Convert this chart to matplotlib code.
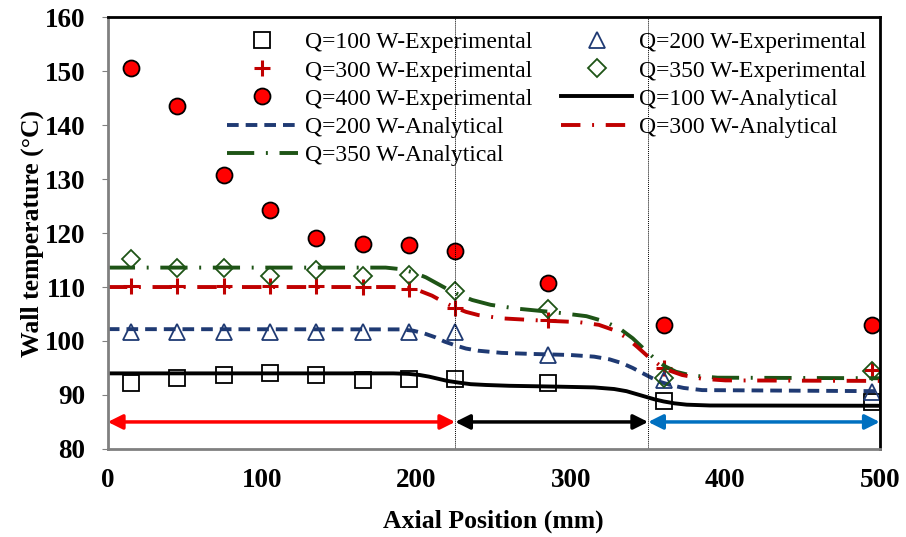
import matplotlib
matplotlib.use("Agg")
import matplotlib.pyplot as plt

# experimental points
x_exp = [15, 45, 75, 105, 135, 165, 195, 225, 285, 360, 495]
t100_exp = [92.2, 93.1, 93.7, 94.1, 93.7, 92.8, 93.0, 93.0, 92.2, 88.9, 88.7]
t200_exp = [101.7, 101.7, 101.7, 101.7, 101.7, 101.7, 101.7, 101.6, 97.4, 92.8, 90.6]
t300_exp = [110.1, 110.1, 110.1, 110.1, 110.1, 110.0, 109.6, 106.1, 103.9, 95.0, 94.6]
t350_exp = [115.2, 113.5, 113.6, 112.0, 113.1, 112.0, 112.2, 109.3, 106.0, 93.1, 94.4]
t400_exp = [150.6, 143.6, 130.8, 124.3, 119.0, 118.0, 117.7, 116.7, 110.8, 103.0, 103.0]

# analytical curves
x100 = [0, 185, 195, 202, 208, 214, 220, 227, 235, 245, 260, 290, 315, 328, 336, 342, 348,
        354, 360, 367, 375, 390, 500]
y100 = [94.0, 94.0, 93.9, 93.7, 93.4, 93.0, 92.6, 92.3, 92.0, 91.85, 91.7, 91.55, 91.4,
        91.1, 90.7, 90.2, 89.7, 89.2, 88.8, 88.45, 88.2, 88.05, 88.0]
x200 = [0, 190, 198, 205, 212, 218, 225, 232, 240, 255, 275, 300, 315, 325, 333, 340, 346,
        352, 358, 365, 373, 385, 500]
y200 = [102.2, 102.15, 101.9, 101.4, 100.7, 99.9, 99.2, 98.6, 98.2, 97.8, 97.6, 97.4, 97.1,
        96.6, 95.9, 95.0, 94.1, 93.2, 92.4, 91.8, 91.3, 90.9, 90.7]
x300 = [0, 185, 195, 202, 210, 217, 224, 232, 240, 255, 280, 305, 318, 328, 336, 343, 350,
        357, 364, 372, 385, 400, 500]
y300 = [110.0, 110.0, 109.8, 109.3, 108.4, 107.3, 106.3, 105.4, 104.8, 104.2, 103.8, 103.5,
        103.0, 102.0, 100.6, 98.9, 97.1, 95.6, 94.5, 93.7, 93.0, 92.7, 92.6]
x350 = [0, 180, 190, 198, 206, 213, 220, 228, 236, 248, 265, 290, 310, 322, 332, 340, 347,
        354, 361, 368, 378, 395, 500]
y350 = [113.6, 113.6, 113.3, 112.7, 111.8, 110.7, 109.6, 108.5, 107.6, 106.7, 106.0, 105.3,
        104.6, 103.6, 102.2, 100.5, 98.6, 96.8, 95.3, 94.3, 93.6, 93.2, 93.1]

zones = [(0, 225, "#ff0000"), (225, 350, "#000000"), (350, 500, "#0070c0")]
dividers = [225, 350]

navy = "#1f3a73"
green = "#1e5416"
red = "#c00000"

plt.rcParams["font.family"] = ["Liberation Serif", "DejaVu Serif"]

fig = plt.figure(figsize=(9.06, 5.37), dpi=100)
ax = fig.add_axes([0.119, 0.164, 0.852, 0.804])

ax.plot(x_exp, t100_exp, "s", ms=11, mfc="none", mec="black", mew=1.3, ls="none",
        label="Q=100 W-Experimental")
ax.plot(x_exp, t300_exp, "+", ms=12, mec=red, mew=2.2, ls="none",
        label="Q=300 W-Experimental")
ax.plot(x_exp, t400_exp, "o", ms=11.5, mfc="#ff0000", mec="black", mew=1.3, ls="none",
        label="Q=400 W-Experimental")
ax.plot(x200, y200, color=navy, lw=2.8, ls=(0, (3, 1.8)), label="Q=200 W-Analytical")
ax.plot(x350, y350, color=green, lw=2.8, ls=(0, (7, 3, 0.5, 3)), label="Q=350 W-Analytical")
ax.plot(x_exp, t200_exp, "^", ms=11, mfc="none", mec=navy, mew=1.3, ls="none",
        label="Q=200 W-Experimental")
ax.plot(x_exp, t350_exp, "D", ms=9, mfc="none", mec=green, mew=1.3, ls="none",
        label="Q=350 W-Experimental")
ax.plot(x100, y100, color="black", lw=2.8, label="Q=100 W-Analytical")
ax.plot(x300, y300, color=red, lw=2.8, ls=(0, (5, 3, 0.5, 3)), label="Q=300 W-Analytical")

for xd in dividers:
    ax.axvline(xd, color="black", lw=0.7, ls=(0, (1, 1)))

for x0, x1, c in zones:
    ax.annotate("", xy=(x1, 85), xytext=(x0, 85),
                arrowprops=dict(arrowstyle="<|-|>", color=c, lw=2.5,
                                mutation_scale=22, shrinkA=0, shrinkB=0))

ax.set_xlim(0, 500)
ax.set_ylim(80, 160)
ax.set_xticks([0, 100, 200, 300, 400, 500])
ax.set_yticks(range(80, 161, 10))
ax.set_xlabel("Axial Position (mm)", fontsize=18.5, fontweight="bold", labelpad=12)
ax.set_ylabel("Wall temperature (°C)", fontsize=18.5, fontweight="bold", labelpad=1)
for lab in ax.get_xticklabels() + ax.get_yticklabels():
    lab.set_fontweight("bold")
    lab.set_fontsize(19.5)
ax.tick_params(axis="x", length=0, pad=14)
ax.tick_params(axis="y", length=4, color="gray", direction="out", pad=12)

for s in ["left", "bottom"]:
    ax.spines[s].set_color("gray")
    ax.spines[s].set_linewidth(2)
for s in ["top", "right"]:
    ax.spines[s].set_color("black")
    ax.spines[s].set_linewidth(2)

ax.legend(ncol=2, loc="upper left", bbox_to_anchor=(0.154, 0.966), frameon=False,
          fontsize=17, handlelength=3.0, handletextpad=0.3, columnspacing=1.25,
          labelspacing=0.28, borderaxespad=0, borderpad=0, markerscale=1.0)

fig.savefig("out.png", dpi=100)
